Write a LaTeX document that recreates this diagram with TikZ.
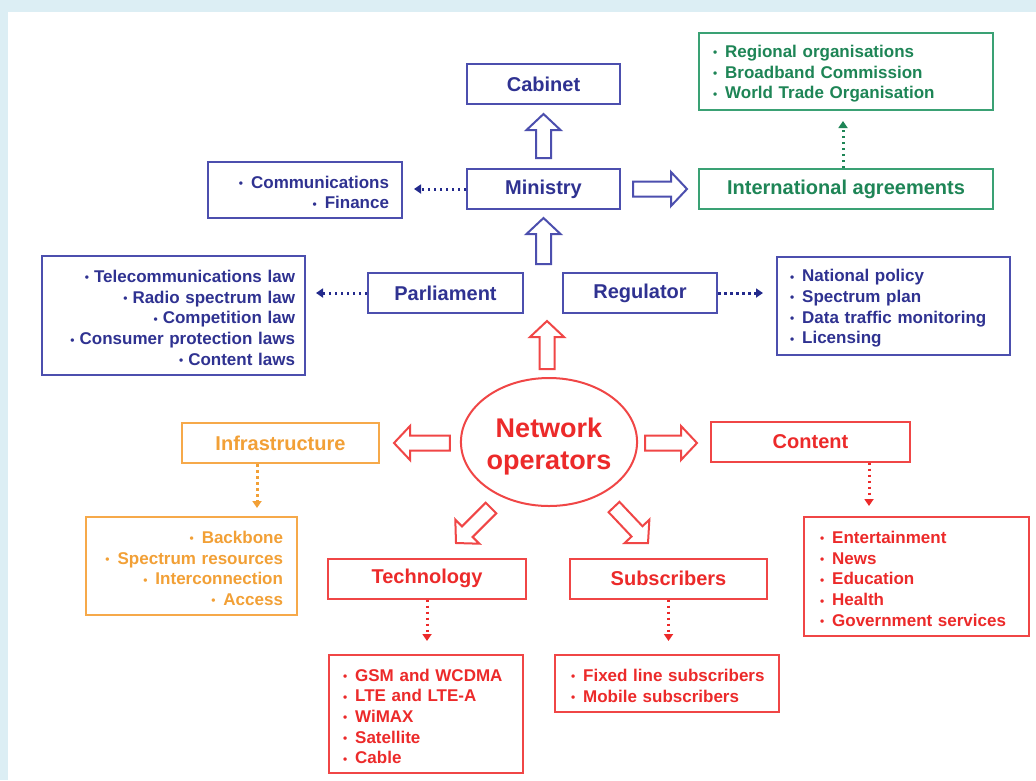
\documentclass[tikz,border=0pt]{standalone}
\usepackage{fontspec}
\setmainfont{Liberation Sans}
\usetikzlibrary{calc,shapes.geometric,arrows.meta}
\definecolor{bgblue}{HTML}{DCEEF4}
\definecolor{bluetxt}{HTML}{2F3291}
\definecolor{blueln}{HTML}{4C4FAE}
\definecolor{bluedot}{HTML}{232A8C}
\definecolor{greentxt}{HTML}{1E8556}
\definecolor{greenln}{HTML}{3AA174}
\definecolor{orangetxt}{HTML}{F2A036}
\definecolor{orangeln}{HTML}{F6A94A}
\definecolor{redtxt}{HTML}{EC2A2A}
\definecolor{redln}{HTML}{F04646}

\newcommand\bulsym{\raisebox{0.6pt}{\scalebox{0.7}{•}}}
\newcommand\itm[1]{\mbox{\bulsym\hspace{8pt}#1}}
\newcommand\itmt[1]{\mbox{\bulsym\hspace{5pt}#1}}
\newcommand\fl{\rule{0pt}{17pt}}

\newcommand\barrow[3]{%
 \draw[#1, line width=2pt, line join=miter, fill=white]
  let \p1=#2, \p2=#3,
      \n1={atan2(\y2-\y1,\x2-\x1)},
      \n2={veclen(\x2-\x1,\y2-\y1)-16pt}
  in ($(\p1)+(\n1+90:7.5pt)$)
  -- ($(\p1)+(\n1:{\n2*1pt})+(\n1+90:7.5pt)$)
  -- ($(\p1)+(\n1:{\n2*1pt})+(\n1+90:17pt)$)
  -- (\p2)
  -- ($(\p1)+(\n1:{\n2*1pt})+(\n1-90:17pt)$)
  -- ($(\p1)+(\n1:{\n2*1pt})+(\n1-90:7.5pt)$)
  -- ($(\p1)+(\n1-90:7.5pt)$) -- cycle;}

\tikzset{
 lblbox/.style={draw, line width=2pt, inner sep=0pt, minimum height=40pt,
   font=\fontsize{20}{24}\selectfont\bfseries},
 bluebox/.style={lblbox, draw=blueln, text=bluetxt},
 greenbox/.style={lblbox, draw=greenln, text=greentxt},
 orangebox/.style={lblbox, draw=orangeln, text=orangetxt},
 redbox/.style={lblbox, draw=redln, text=redtxt},
 lst/.style={draw, line width=2pt, inner ysep=0pt,
   font=\fontsize{17}{20.7}\selectfont\bfseries},
 blueR/.style={lst, align=right, draw=blueln, text=bluetxt},
 blueL/.style={lst, align=left, draw=blueln, text=bluetxt},
 greenL/.style={lst, align=left, draw=greenln, text=greentxt},
 orangeR/.style={lst, align=right, draw=orangeln, text=orangetxt},
 redL/.style={lst, align=left, draw=redln, text=redtxt},
 dotarr/.style={line width=3pt, dash pattern=on 2.5pt off 3.5pt,
   -{Triangle[length=7pt,width=9pt]}},
}

\begin{document}
\begin{tikzpicture}[x=1pt,y=-1pt]
\useasboundingbox (0,0) rectangle (1036,780);
\fill[bgblue] (0,0) rectangle (1036,780);
\fill[white] (8,12) rectangle (1036,780);

% government side
\node[bluebox, minimum width=153pt] (cabinet) at (543.5,84) {Cabinet};
\node[bluebox, minimum width=153pt] (ministry) at (543.5,189) {Ministry};
\node[blueR, text width=168pt, inner xsep=13pt, minimum height=56pt] (comm) at (305,190)
  {\fl\itm{Communications}\\\itm{Finance}};
\node[greenbox, minimum width=294pt] (intl) at (846,189) {International agreements};
\node[greenL, text width=266pt, inner xsep=14pt, minimum height=77pt] (glist) at (846,71.5)
  {\fl\itm{Regional organisations}\\\itm{Broadband Commission}\\\itm{World Trade Organisation}};
\node[bluebox, minimum width=155pt] (parl) at (445.5,293) {Parliament};
\node[bluebox, minimum width=154pt] (reg) at (640,293) {Regulator};
\node[blueR, text width=243pt, inner xsep=10pt, minimum height=119pt] (laws) at (173.5,315.5)
  {\fl\itmt{Telecommunications law}\\\itmt{Radio spectrum law}\\\itmt{Competition law}\\\itmt{Consumer protection laws}\\\itmt{Content laws}};
\node[blueL, text width=207pt, inner xsep=13pt, minimum height=98pt] (reglist) at (893.5,306)
  {\fl\itm{National policy}\\\itm{Spectrum plan}\\\itm{Data traffic monitoring}\\\itm{Licensing}};

% operators side
\node[ellipse, draw=redln, line width=2pt, minimum width=172pt, minimum height=128pt,
  inner sep=0pt, text=redtxt, align=center, font=\fontsize{27}{32}\selectfont\bfseries]
  (netop) at (549,442) {\rule{0pt}{28pt}Network\\operators};
\node[orangebox, minimum width=197pt] (infra) at (280.5,443) {Infrastructure};
\node[orangeR, text width=183pt, inner xsep=14pt, minimum height=98pt] (olist) at (191.5,566)
  {\fl\itm{Backbone}\\\itm{Spectrum resources}\\\itm{Interconnection}\\\itm{Access}};
\node[redbox, minimum width=199pt] (content) at (810.5,441.5) {Content};
\node[redL, text width=193pt, inner xsep=16pt, minimum height=119pt] (clist) at (916.5,576.5)
  {\fl\itm{Entertainment}\\\itm{News}\\\itm{Education}\\\itm{Health}\\\itm{Government services}};
\node[redbox, minimum width=198pt] (tech) at (427,578.5) {Technology};
\node[redL, text width=166pt, inner xsep=14pt, minimum height=118pt] (tlist) at (426,714)
  {\fl\itm{GSM and WCDMA}\\\itm{LTE and LTE-A}\\\itm{WiMAX}\\\itm{Satellite}\\\itm{Cable}};
\node[redbox, minimum width=197pt] (subs) at (668.5,578.5) {Subscribers};
\node[redL, text width=192pt, inner xsep=16pt, minimum height=57pt] (slist) at (667,683.5)
  {\fl\itm{Fixed line subscribers}\\\itm{Mobile subscribers}};

% block arrows
\barrow{blueln}{($(ministry.north)+(0,-10)$)}{($(cabinet.south)+(0,9)$)}
\barrow{blueln}{($(ministry.south)+(0,54)$)}{($(ministry.south)+(0,8)$)}
\barrow{blueln}{($(ministry.east)+(12,0)$)}{($(ministry.east -| intl.west)+(-11,0)$)}
\barrow{redln}{($(netop.north)+(-2,-8)$)}{($(netop.north)+(-2,-56)$)}
\barrow{redln}{($(infra.east -| netop.west)+(-10,0)$)}{($(infra.east)+(14,0)$)}
\barrow{redln}{($(netop.east)+(7,1)$)}{($(netop.east -| content.west)+(-13,1)$)}
\barrow{redln}{($(netop.center)+(-58,66)$)}{($(netop.center)+(-93,101)$)}
\barrow{redln}{($(netop.center)+(65,65)$)}{($(netop.center)+(99,101)$)}

% dotted arrows
\draw[dotarr, bluedot] (ministry.west) -- ($(ministry.west -| comm.east)+(11,0)$);
\draw[dotarr, bluedot] (parl.west) -- ($(parl.west -| laws.east)+(10,0)$);
\draw[dotarr, bluedot] (reg.east) -- ($(reg.east -| reglist.west)+(-13,0)$);
\draw[dotarr, greentxt] ($(intl.north)+(-3,0)$) -- ($(intl.north |- glist.south)+(-3,10)$);
\draw[dotarr, orangetxt] ($(infra.south)+(-23.5,0)$) -- ($(infra.south |- olist.north)+(-23.5,-8)$);
\draw[dotarr, redtxt] ($(content.south)+(58.5,0)$) -- ($(content.south |- clist.north)+(58.5,-10)$);
\draw[dotarr, redtxt] (tech.south) -- ($(tech.south |- tlist.north)+(0,-13)$);
\draw[dotarr, redtxt] (subs.south) -- ($(subs.south |- slist.north)+(0,-13)$);
\end{tikzpicture}
\end{document}
